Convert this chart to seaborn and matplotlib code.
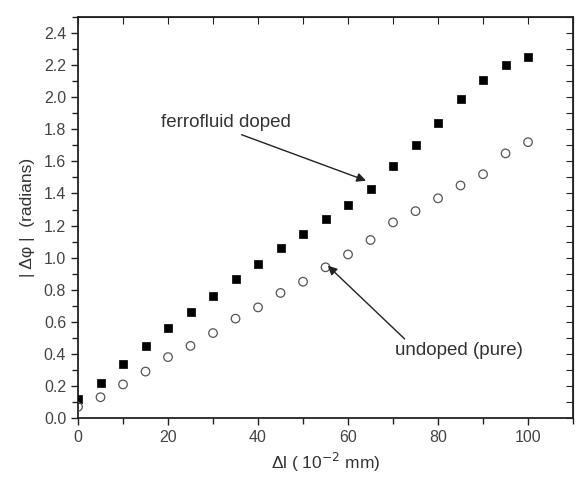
import pandas as pd
import matplotlib
matplotlib.use('Agg')
import matplotlib.pyplot as plt
import seaborn as sns
from matplotlib.ticker import MultipleLocator

dl = [0, 5, 10, 15, 20, 25, 30, 35, 40, 45, 50, 55, 60, 65, 70, 75, 80, 85, 90, 95, 100]
doped = [0.12, 0.22, 0.34, 0.45, 0.56, 0.66, 0.76, 0.87, 0.96, 1.06, 1.15, 1.24, 1.33, 1.43,
         1.57, 1.70, 1.84, 1.99, 2.11, 2.20, 2.25]
pure = [0.07, 0.13, 0.21, 0.29, 0.38, 0.45, 0.53, 0.62, 0.69, 0.78, 0.85, 0.94, 1.02, 1.11,
        1.22, 1.29, 1.37, 1.45, 1.52, 1.65, 1.72]

df = pd.DataFrame({'dl': dl, 'doped': doped, 'pure': pure})

sns.set_style('ticks')
plt.rcParams['font.family'] = ['Liberation Sans', 'DejaVu Sans']
txt = '#333333'

fig = plt.figure(figsize=(5.8, 4.8), dpi=100)
ax = fig.add_axes([0.1345, 0.129, 0.8535, 0.8355])

sns.scatterplot(data=df, x='dl', y='doped', marker='s', s=34, color='black',
                edgecolor='black', linewidth=0.5, ax=ax, zorder=3)
sns.scatterplot(data=df, x='dl', y='pure', marker='o', s=38, facecolor='none',
                edgecolor='#555555', linewidth=0.9, ax=ax, zorder=3)

ax.set_xlim(0, 110)
ax.set_ylim(0, 2.5)
ax.xaxis.set_major_locator(MultipleLocator(20))
ax.xaxis.set_minor_locator(MultipleLocator(10))
ax.yaxis.set_major_locator(MultipleLocator(0.2))
ax.yaxis.set_minor_locator(MultipleLocator(0.1))
ax.yaxis.set_major_formatter(matplotlib.ticker.FormatStrFormatter('%.1f'))

ax.tick_params(which='both', direction='out', labelsize=11.5, colors='#222222', labelcolor='#444444')
ax.tick_params(which='major', length=5, width=1)
ax.tick_params(which='minor', length=4, width=1)
for s in ax.spines.values():
    s.set_linewidth(1.3)
    s.set_color('#222222')

# mirrored ticks on top and right
axt = ax.secondary_xaxis('top')
axt.xaxis.set_major_locator(MultipleLocator(10))
axt.tick_params(direction='in', length=5, labeltop=False, colors='#222222')
axr = ax.secondary_yaxis('right')
axr.yaxis.set_major_locator(MultipleLocator(0.1))
axr.tick_params(direction='in', length=5, labelright=False, colors='#222222')

ax.set_xlabel('Δl ( 10$^{-2}$ mm)', fontsize=12.5, color=txt, labelpad=4)
ax.set_ylabel('| Δφ |  (radians)', fontsize=12.5, color=txt, labelpad=6)

ax.annotate('ferrofluid doped', xy=(64, 1.48), xytext=(18.5, 1.84), fontsize=13.5, color=txt,
            va='center', ha='left',
            arrowprops=dict(arrowstyle='-|>', color='#222222', lw=1.0, shrinkA=0, shrinkB=0,
                            relpos=(0.55, 0.0)))
ax.annotate('undoped (pure)', xy=(55.5, 0.95), xytext=(70.5, 0.42), fontsize=13.5, color=txt,
            va='center', ha='left',
            arrowprops=dict(arrowstyle='-|>', color='#222222', lw=1.0, shrinkA=0, shrinkB=0,
                            relpos=(0.1, 1.0)))

fig.savefig('out.png', dpi=100)
